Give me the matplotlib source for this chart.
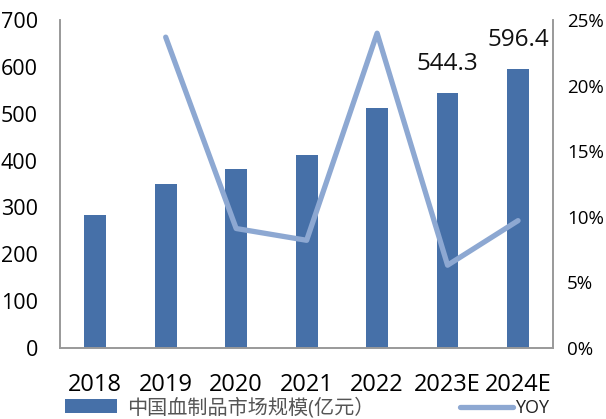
import matplotlib
matplotlib.use("Agg")
import matplotlib.pyplot as plt
from matplotlib.ticker import FuncFormatter

plt.rcParams['font.family'] = ['Open Sans', 'Noto Sans CJK SC', 'DejaVu Sans']

# market size (100M CNY) and year-over-year growth
years = ["2018", "2019", "2020", "2021", "2022", "2023E", "2024E"]
market_size = [284, 350, 382, 412, 512, 544.3, 596.4]
yoy = [None, 0.237, 0.091, 0.082, 0.240, 0.063, 0.097]
labelled = {5: "544.3", 6: "596.4"}

bar_color = "#4670A8"
line_color = "#8DA8D2"

fig = plt.figure(figsize=(6.06, 4.19), dpi=100)
ax = fig.add_axes([0.099, 0.17, 0.814, 0.782])
ax2 = ax.twinx()

x = list(range(len(years)))
bars = ax.bar(x, market_size, width=0.31, color=bar_color, zorder=2,
              label="中国血制品市场规模(亿元）")

for i, txt in labelled.items():
    ax.text(i, market_size[i] + 36, txt, ha="center", va="bottom",
            fontsize=17.5, color="#111111")

line_x = [i for i in x if yoy[i] is not None]
line_y = [yoy[i] for i in line_x]
ax2.plot(line_x, line_y, color=line_color, lw=3.8, solid_capstyle="round",
         zorder=3, label="YOY")

ax.set_xlim(-0.5, 6.5)
ax.set_ylim(0, 700)
ax.set_yticks(range(0, 701, 100))
ax2.set_ylim(0, 0.25)
ax2.set_yticks([0, 0.05, 0.10, 0.15, 0.20, 0.25])
ax2.yaxis.set_major_formatter(FuncFormatter(lambda v, p: f"{v*100:.0f}%"))

ax.set_xticks(x)
ax.set_xticklabels(years, fontsize=17)
ax.tick_params(axis="x", length=0, pad=18)
ax.tick_params(axis="y", length=0, labelsize=15.5, pad=16)
ax2.tick_params(axis="y", length=0, labelsize=13.5, pad=10)

for a in (ax, ax2):
    a.spines["top"].set_visible(False)
    for s in ("left", "right", "bottom"):
        a.spines[s].set_color("#999999")
        a.spines[s].set_linewidth(1.2)

# legend row underneath the year labels
fig.legend(handles=[bars], loc="center left", bbox_to_anchor=(0.09, 0.026),
           frameon=False, fontsize=14.5, handlelength=2.6, handleheight=0.7,
           handletextpad=0.5, labelcolor="#555555", borderpad=0)
fig.legend(handles=ax2.get_lines(), loc="center left",
           bbox_to_anchor=(0.745, 0.026), frameon=False, fontsize=13,
           handlelength=2.9, handletextpad=0.1, labelcolor="#222222",
           borderpad=0)

fig.savefig("out.png", dpi=100)
